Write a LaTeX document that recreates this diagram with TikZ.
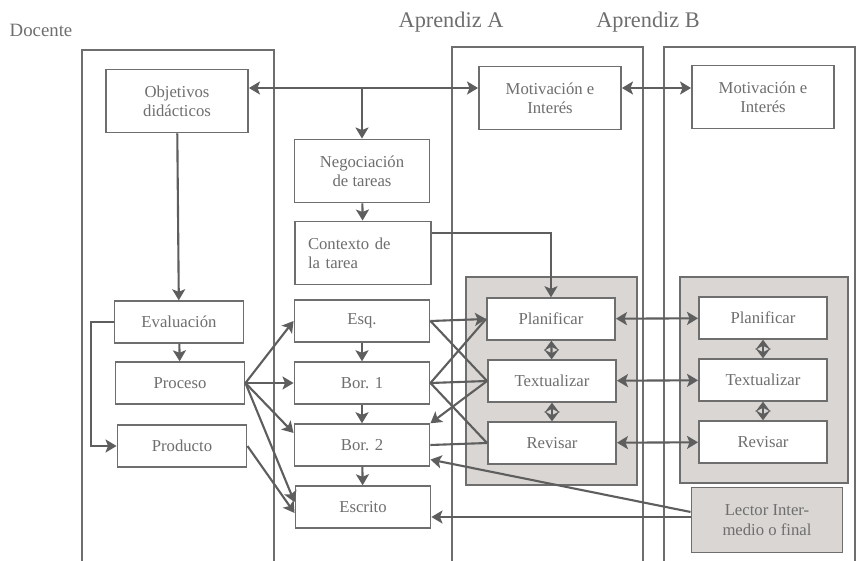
\documentclass[tikz,border=0pt]{standalone}
\usepackage{fontspec}
\setmainfont{Liberation Serif}
\usetikzlibrary{arrows.meta}
\definecolor{inkgray}{HTML}{6E6E6E}
\definecolor{linegray}{HTML}{5E5E5E}
\definecolor{panelgray}{HTML}{D9D6D3}
\tikzset{
  box/.style={draw=inkgray, line width=1.1pt, fill=white, text=inkgray,
    inner sep=1pt, align=center, font=\fontsize{9.5}{11}\selectfont},
  tallbox/.style={box, minimum width=2.84cm, minimum height=1.26cm},
  midbox/.style={box, minimum width=2.7cm, minimum height=0.83cm},
  leftbox/.style={box, minimum width=2.58cm, minimum height=0.83cm},
  stagebox/.style={box, minimum width=2.56cm, minimum height=0.83cm},
  panel/.style={draw=inkgray, line width=1pt, fill=panelgray},
  frame/.style={draw=inkgray, line width=0.8pt},
  head/.style={text=inkgray, inner sep=0pt},
  link/.style={draw=linegray, line width=1.2pt},
  arr/.style={link, -{Stealth[length=2.2mm, width=2.6mm, inset=0.5mm]}},
  twoway/.style={link, {Stealth[length=2.2mm, width=2.6mm, inset=0.5mm]}-{Stealth[length=2.2mm, width=2.6mm, inset=0.5mm]}},
  tinyway/.style={link, {Stealth[length=2mm, width=3mm, inset=0.8mm]}-{Stealth[length=2mm, width=3mm, inset=0.8mm]}}
}
\begin{document}
\begin{tikzpicture}[x=0.02cm, y=-0.02cm]
  \useasboundingbox (0,0) rectangle (856,561);
  \draw[frame] (82,561) |- (274,50) -- (274,561);
  \draw[frame] (452,561) |- (643,47) -- (643,561);
  \draw[frame] (664,561) |- (855,47) -- (855,561);
  \node[head, font=\fontsize{10.7}{12}\selectfont] (docente) at (41,30) {Docente};
  \node[head, font=\fontsize{12.7}{14}\selectfont] (aprA) at (451,22) {Aprendiz A};
  \node[head, font=\fontsize{12.7}{14}\selectfont] (aprB) at (648,22) {Aprendiz B};
  \node[panel, minimum width=3.42cm, minimum height=4.16cm] (panelA) at (551.5,381) {};
  \node[panel, minimum width=3.36cm, minimum height=4.12cm] (panelB) at (764,380) {};
  \coordinate (topline) at (0,88);
  \coordinate (ctxline) at (0,233);
  \coordinate (loopx) at (91,0);
  \coordinate (escline) at (0,517);
  \node[tallbox] (obj) at (177,101) {Objetivos\\didácticos};
  \node[tallbox] (motA) at (550,98) {Motivación e\\Interés};
  \node[tallbox] (motB) at (763,97) {Motivación e\\Interés};
  \node[tallbox, minimum width=2.7cm] (neg) at (362,171) {Negociación\\de tareas};
  \node[tallbox, minimum width=2.72cm, align=left, text width=2.2cm] (ctx) at (363,253) {Contexto de\\la tarea};
  \node[leftbox] (eval) at (179,322) {Evaluación};
  \node[leftbox] (proc) at (180,383) {Proceso};
  \node[leftbox] (prod) at (182,446) {Producto};
  \node[midbox] (esq) at (362,321) {Esq.};
  \node[midbox] (bor1) at (362,383) {Bor. 1};
  \node[midbox] (bor2) at (362,445) {Bor. 2};
  \node[midbox] (escr) at (363,507) {Escrito};
  \node[stagebox] (planA) at (551,319) {Planificar};
  \node[stagebox] (textA) at (552,381) {Textualizar};
  \node[stagebox] (revA) at (552,443) {Revisar};
  \node[stagebox] (planB) at (763,318) {Planificar};
  \node[stagebox] (textB) at (763,380) {Textualizar};
  \node[stagebox] (revB) at (763,442) {Revisar};
  \node[box, fill=panelgray, minimum width=3.02cm, minimum height=1.3cm] (lector) at (767,520) {Lector Inter-\\medio o final};
  \begin{scope}
    \draw[twoway] (obj.east |- topline) -- (motA.west |- topline);
    \draw[twoway] (motA.east |- topline) -- (motB.west |- topline);
    \draw[arr] (neg.north |- topline) -- (neg.north);
    \draw[arr] (neg) -- (ctx);
    \draw[arr] (ctx.east |- ctxline) -| (planA.north);
    \draw[arr] (obj) -- (eval);
    \draw[arr] (eval) -- (proc);
    \draw[arr] (eval.west) -- (eval.west -| loopx) |- (prod.west);
    \draw[arr] (esq) -- (bor1);
    \draw[arr] (bor1) -- (bor2);
    \draw[arr] (bor2) -- (escr);
    \draw[arr] (proc.east) -- (esq.west);
    \draw[arr] (proc.east) -- (bor1.west);
    \draw[arr] (proc.east) -- (bor2.170);
    \draw[arr] (proc.east) -- (escr.176);
    \draw[arr] (prod.east) -- (escr.185);
    \draw[arr] (esq.east) -- (planA.west);
    \draw[link] (esq.east) -- (textA.west);
    \draw[link] (planA.west) -- (bor1.east);
    \draw[link] (bor1.east) -- (textA.west);
    \draw[link] (bor1.east) -- (revA.west);
    \draw[arr] (textA.west) -- (bor2.north east);
    \draw[link] (bor2.east) -- (revA.west);
    \draw[twoway] (planA) -- (planB);
    \draw[twoway] (textA) -- (textB);
    \draw[twoway] (revA) -- (revB);
    \draw[tinyway] (planA) -- (textA);
    \draw[tinyway] (textA) -- (revA);
    \draw[tinyway] (planB) -- (textB);
    \draw[tinyway] (textB) -- (revB);
    \draw[arr] (lector.174) -- (bor2.-12);
    \draw[arr] (lector.west |- escline) -- (escr.east |- escline);
  \end{scope}
\end{tikzpicture}
\end{document}
